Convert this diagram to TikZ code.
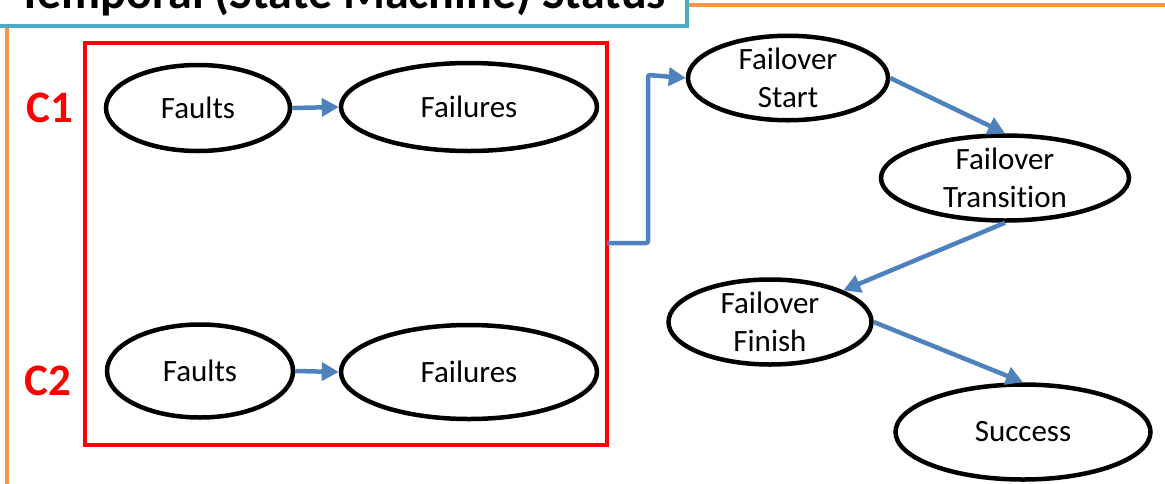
\documentclass[tikz,border=0pt]{standalone}
\usepackage{fontspec}
\setmainfont[Ligatures=NoCommon]{Carlito}
\usetikzlibrary{arrows.meta,shapes.geometric}
\definecolor{offblue}{HTML}{4F81BD}
\definecolor{offorange}{HTML}{F79646}
\definecolor{offcyan}{HTML}{4BACC6}
\begin{document}
\begin{tikzpicture}[x=1pt,y=-1pt,
  state/.style={ellipse,draw=black,line width=4.5pt,fill=white,inner sep=0pt,align=center,font=\fontsize{31}{38}\selectfont},
  flow/.style={draw=offblue,line width=4.5pt,-{Triangle[length=17pt,width=18pt]}},
  clabel/.style={text=red,font=\fontsize{45}{48}\selectfont\bfseries}]
\useasboundingbox (0,0) rectangle (1165,483);
\clip (0,0) rectangle (1165,483);
% frame
\draw[offorange,line width=4.5pt] (7,28) -- (7,490);
\draw[offorange,line width=4.5pt] (688,5) -- (1170,5);
\draw[offcyan,line width=4.5pt,fill=white] (-10,-60) rectangle (687,26);
\node[anchor=base west,inner sep=0pt,font=\fontsize{48}{52}\selectfont\bfseries] (title) at (18,8) {Temporal (State Machine) Status};
% red box
\draw[red,line width=4.5pt] (85,43) rectangle (607,445);
\coordinate (boxr) at (607,243);
\node[clabel] (c1) at (50,108) {C1};
\node[clabel] (c2) at (48,381) {C2};
% states
\node[state,minimum width=184pt,minimum height=86pt] (f1) at (198,108) {Faults};
\node[state,minimum width=256pt,minimum height=88pt] (e1) at (469,107) {Failures};
\node[state,minimum width=186pt,minimum height=93pt] (f2) at (200,371) {Faults};
\node[state,minimum width=256pt,minimum height=94pt] (e2) at (469,372) {Failures};
\node[state,minimum width=200pt,minimum height=78pt] (fs) at (788,78) {Failover\\Start};
\node[state,minimum width=248pt,minimum height=85pt] (ft) at (1005,178) {Failover\\Transition};
\node[state,minimum width=203pt,minimum height=85pt] (ff) at (770,322) {Failover\\Finish};
\node[state,minimum width=255pt,minimum height=95pt] (su) at (1023,432) {Success};
% arrows
\draw[flow] (f1.east) -- (e1.west);
\draw[flow] (f2.east) -- (e2.west);
\draw[flow,rounded corners=2pt] (boxr) -- (648,243) -- (648,75) -- (fs.west);
\draw[flow] (fs.east) -- (ft.north);
\draw[flow] (ft.south) -- (ff.north east);
\draw[flow] (ff.east) -- (su.north);
\end{tikzpicture}
\end{document}
